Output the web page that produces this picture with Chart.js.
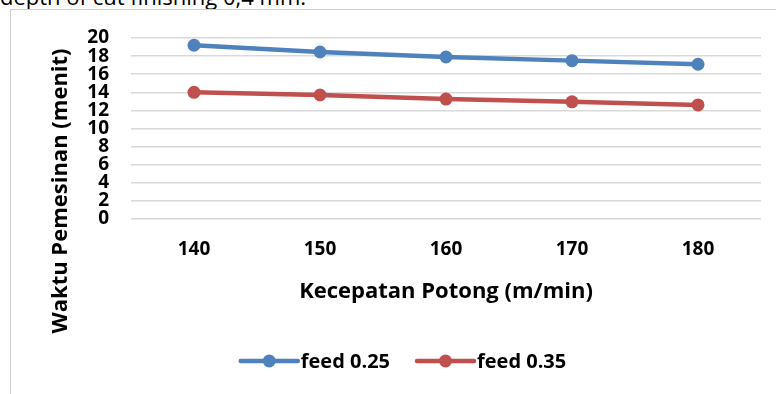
<!DOCTYPE html>
<html>
<head>
<meta charset="utf-8">
<script src="https://cdn.jsdelivr.net/npm/chart.js@4.4.0/dist/chart.umd.min.js"></script>
<style>
  html, body { margin: 0; padding: 0; background: #fff; overflow: hidden; }
  #wrap { position: relative; width: 776px; height: 394px; }
  #caption { position: absolute; left: 0; top: -15px; font: 22px/22px 'Open Sans', sans-serif; color: #000; white-space: nowrap; }
  #frame { position: absolute; left: 10px; top: 9px; width: 780px; height: 400px; border-left: 1px solid #d0d0d0; border-top: 1px solid #d0d0d0; }
  #chartCanvas { position: absolute; left: 0; top: 0; }
</style>
</head>
<body>
<div id="wrap">
  <div id="caption">depth of cut finishing 0,4 mm.</div>
  <div id="frame"></div>
  <canvas id="chartCanvas" width="776" height="394"></canvas>
</div>
<script>
const categories = ['140', '150', '160', '170', '180'];
const feed025 = [19.2, 18.45, 17.9, 17.5, 17.1];
const feed035 = [14.0, 13.7, 13.25, 12.95, 12.6];
const seriesNames = ['feed 0.25', 'feed 0.35'];
const seriesColors = ['#4F81BD', '#C0504D'];
const yTicks = [0, 2, 4, 6, 8, 10, 12, 14, 16, 18, 20];
const xTitle = 'Kecepatan Potong (m/min)';
const yTitle = 'Waktu Pemesinan (menit)';

const boldFont = "bold 20px 'Open Sans', sans-serif";

// y-Titel und Legende selbst zeichnen (Linie mit Punkt wie im Original)
const extras = {
  id: 'extras',
  afterDraw(chart) {
    const ctx = chart.ctx;
    ctx.save();
    ctx.fillStyle = '#000';
    ctx.font = "bold 22px 'Open Sans', sans-serif";
    ctx.translate(61, 191);
    ctx.rotate(-Math.PI / 2);
    ctx.textAlign = 'center';
    ctx.textBaseline = 'middle';
    ctx.fillText(yTitle, 0, 0);
    ctx.restore();

    ctx.save();
    ctx.font = boldFont;
    const lineLen = 57, gap = 3, itemGap = 27, y = 361;
    const widths = chart.data.datasets.map(ds => lineLen + gap + ctx.measureText(ds.label).width);
    const total = widths.reduce((a, b) => a + b, 0) + itemGap * (widths.length - 1);
    let x = 403.5 - total / 2;
    chart.data.datasets.forEach((ds, i) => {
      ctx.strokeStyle = ds.borderColor;
      ctx.lineWidth = 4.5;
      ctx.lineCap = 'round';
      ctx.beginPath();
      ctx.moveTo(x, y);
      ctx.lineTo(x + lineLen, y);
      ctx.stroke();
      ctx.fillStyle = ds.borderColor;
      ctx.beginPath();
      ctx.arc(x + lineLen / 2, y, 6.5, 0, Math.PI * 2);
      ctx.fill();
      ctx.fillStyle = '#000';
      ctx.textAlign = 'left';
      ctx.textBaseline = 'middle';
      ctx.fillText(ds.label, x + lineLen + gap, y + 1);
      x += widths[i] + itemGap;
    });
    ctx.restore();
  }
};

const ctx = document.getElementById('chartCanvas').getContext('2d');
new Chart(ctx, {
  type: 'line',
  data: {
    labels: categories,
    datasets: [feed025, feed035].map((values, i) => ({
      label: seriesNames[i],
      data: values,
      borderColor: seriesColors[i],
      backgroundColor: seriesColors[i],
      borderWidth: 4.5,
      pointRadius: 6.5,
      pointHoverRadius: 6.5,
      pointBorderWidth: 0,
      tension: 0
    }))
  },
  options: {
    responsive: false,
    animation: false,
    layout: { padding: { left: 0, right: 15, top: 38, bottom: 72 } },
    plugins: { legend: { display: false }, tooltip: { enabled: false } },
    scales: {
      x: {
        offset: true,
        grid: { display: false, drawTicks: false },
        border: { display: false },
        ticks: { color: '#000', font: { family: 'Open Sans', weight: 'bold', size: 19 }, padding: 19 },
        title: { display: true, text: xTitle, color: '#000', font: { family: 'Open Sans', weight: 'bold', size: 22 }, padding: { top: 0, bottom: 17 } },
        afterFit(scale) { scale.height = 103; }
      },
      y: {
        min: 0,
        max: 20,
        afterBuildTicks(scale) { scale.ticks = yTicks.map(v => ({ value: v })); },
        grid: { color: '#d9d9d9', lineWidth: 1.5, drawTicks: false },
        border: { display: false },
        ticks: { color: '#000', font: { family: 'Open Sans', weight: 'bold', size: 19, lineHeight: 1 }, padding: 22, autoSkip: false },
        afterFit(scale) { scale.width = 131; }
      }
    }
  },
  plugins: [extras]
});
</script>
</body>
</html>
